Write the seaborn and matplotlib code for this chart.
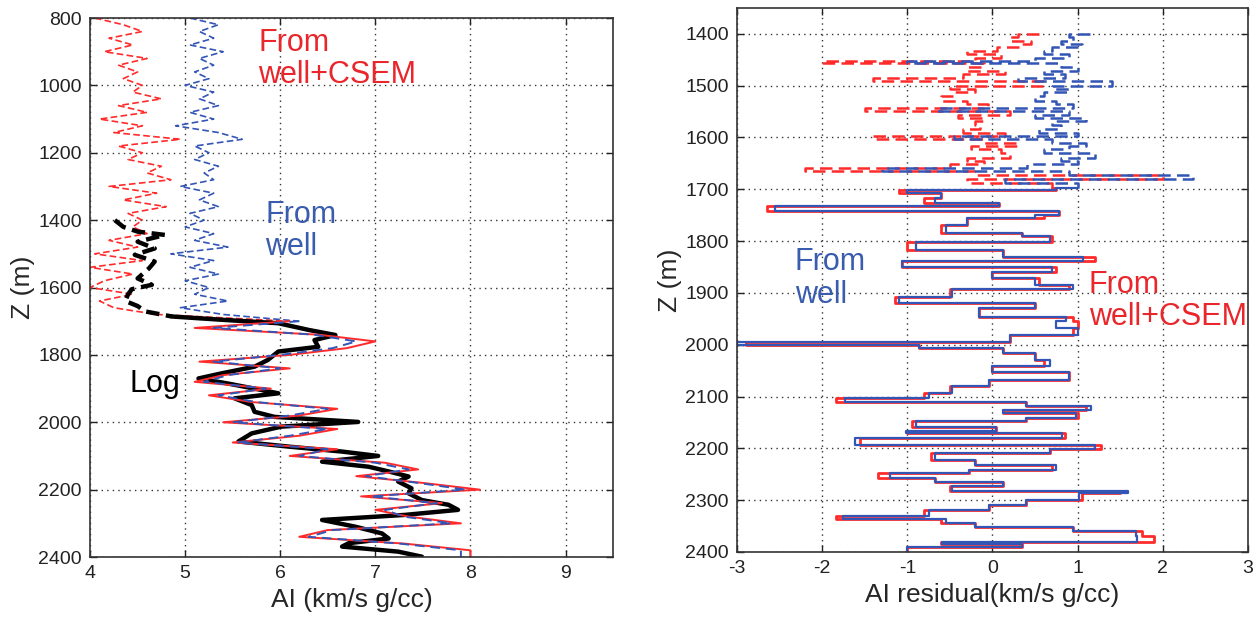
import numpy as np
import pandas as pd
import seaborn as sns
import matplotlib.pyplot as plt

sns.set_style("ticks")
plt.rcParams['font.family'] = ['Liberation Sans', 'DejaVu Sans']
plt.rcParams['axes.unicode_minus'] = False

# ---- left panel: AI vs depth ----
depth_ai = np.arange(800, 2401, 20)
ai_csem = [4.05, 4.35, 4.55, 4.2, 4.45, 4.15, 4.6, 4.3, 4.5, 4.35,
           4.55, 4.45, 4.75, 4.3, 4.6, 4.1, 4.55, 4.25, 4.95, 4.3,
           4.55, 4.4, 4.75, 4.6, 4.85, 4.2, 4.7, 4.35, 4.8, 4.4,
           4.55, 4.45, 4.6, 4.2, 4.5, 4.05, 4.55, 4.0, 4.45, 4.15,
           4.0, 4.45, 4.1, 4.25, 4.7, 6.1, 5.1, 6.4, 7.0, 6.7,
           6.1, 5.15, 6.1, 5.4, 5.1, 5.9, 5.25, 5.7, 6.6, 6.2,
           5.4, 6.6, 6.2, 5.5, 6.6, 6.1, 7.1, 7.45, 6.8, 7.5,
           8.1, 6.85, 7.7, 7.0, 7.35, 7.9, 6.5, 6.2, 7.3, 8.0, 8.0]
ai_well = [5.05, 5.35, 5.15, 5.3, 5.05, 5.4, 5.15, 5.3, 5.1, 5.25,
           5.0, 5.3, 5.15, 5.35, 5.05, 5.3, 4.9, 5.35, 5.6, 5.1,
           5.25, 5.1, 5.35, 5.2, 5.3, 4.95, 5.3, 5.15, 5.35, 5.05,
           5.2, 5.0, 5.3, 5.1, 5.45, 4.85, 5.3, 5.05, 5.35, 5.0,
           5.25, 5.1, 5.45, 4.95, 5.4, 6.2, 5.3, 6.35, 6.8, 6.55,
           6.0, 5.3, 6.0, 5.45, 5.2, 5.85, 5.35, 5.75, 6.5, 6.1,
           5.5, 6.5, 6.1, 5.55, 6.5, 6.2, 7.0, 7.35, 6.9, 7.45,
           7.95, 6.95, 7.65, 7.1, 7.3, 7.8, 6.55, 6.3, 7.25, 7.9, 7.9]

log_depth = [1400, 1420, 1434, 1444, 1464, 1484, 1503, 1523, 1543, 1573,
             1592, 1605, 1620, 1640, 1655, 1671, 1686, 1696, 1706, 1726,
             1741, 1756, 1776, 1790, 1815, 1835, 1855, 1870, 1885, 1904,
             1914, 1929, 1949, 1969, 1984, 1999, 2013, 2033, 2057, 2072,
             2087, 2100, 2117, 2132, 2146, 2161, 2176, 2196, 2211, 2231,
             2245, 2260, 2275, 2290, 2310, 2330, 2345, 2359, 2369, 2384, 2399]
log_ai = [4.26, 4.35, 4.5, 4.79, 4.5, 4.68, 4.47, 4.68, 4.62, 4.5,
          4.65, 4.44, 4.4, 4.37, 4.5, 4.58, 4.86, 5.4, 5.98, 6.3,
          6.58, 6.36, 6.4, 5.98, 5.87, 5.73, 5.38, 5.14, 5.45, 5.8,
          5.98, 5.52, 5.7, 5.73, 5.94, 6.82, 6.01, 5.7, 5.56, 6.08,
          6.65, 7.03, 6.44, 6.93, 7.14, 7.35, 7.24, 7.38, 7.35, 7.49,
          7.77, 7.87, 7.31, 6.44, 6.79, 7.07, 7.14, 6.72, 6.65, 7.24, 7.49]

# ---- right panel: residuals ----
res_depth_up = [1400, 1406, 1413, 1420, 1426, 1433, 1439, 1446, 1452, 1457,
                1464, 1471, 1478, 1485, 1491, 1500, 1507, 1513, 1520, 1529,
                1536, 1543, 1549, 1556, 1562, 1568, 1576, 1584, 1591, 1597,
                1603, 1610, 1616, 1623, 1630, 1639, 1646, 1652, 1658, 1664,
                1672, 1681, 1688, 1697]
res_csem_up = [0.55, 0.3, 0.2, 0.45, 0.35, 0.05, -0.3, 0.1, -0.2, -2.0,
               -0.1, -0.3, 0.15, -0.35, -1.4, 0.6, -0.5, -0.2, -0.45, -0.6,
               -0.3, -0.05, -1.5, 0.2, -0.4, -0.1, -0.2, -0.15, -0.35, 0.15,
               -1.4, -0.1, 0.3, -0.25, 0.1, 0.2, -0.3, -0.1, -0.5, -2.2,
               -0.2, 2.0, -0.3, 0.7]
res_well_up = [1.15, 0.9, 0.95, 0.8, 1.05, 0.7, 0.6, 0.9, 0.5, -1.0,
               0.8, 1.0, 0.6, 0.85, 0.3, 1.4, 0.7, 0.9, 0.6, 0.5,
               0.75, 0.95, -0.65, 0.9, 0.5, 1.1, 0.7, 0.8, 0.55, 1.0,
               -0.45, 0.7, 1.1, 0.9, 0.6, 1.2, 0.8, 1.0, 0.4, -1.3,
               0.9, 2.35, 0.15, 1.0]

res_depth_lo = [1697, 1701, 1707, 1717, 1727, 1733, 1741, 1749, 1756, 1768,
                1785, 1791, 1801, 1817, 1830, 1839, 1849, 1859, 1872, 1884,
                1893, 1907, 1920, 1929, 1946, 1955, 1968, 1981, 1994, 2000,
                2007, 2016, 2029, 2042, 2052, 2068, 2080, 2093, 2103, 2111,
                2118, 2126, 2132, 2142, 2148, 2158, 2167, 2171, 2180, 2193,
                2201, 2209, 2222, 2232, 2241, 2248, 2257, 2264, 2273, 2282,
                2286, 2299, 2309, 2319, 2331, 2336, 2344, 2351, 2360, 2370,
                2380, 2385, 2391, 2399]
res_well_lo = [1.0, 0.75, -1.0, -0.6, -0.67, 0.08, -2.55, 0.78, 0.5, -0.3,
               -0.55, 0.35, 0.67, -0.9, 0.12, 1.06, -1.06, 0.7, 0.0, 0.5,
               0.94, -0.47, -1.1, 0.5, -0.16, 0.86, 0.75, 1.0, 0.2, -3.0,
               -0.86, 0.12, 0.5, 0.67, 0.0, 0.9, -0.04, -0.47, -0.75, -1.73,
               0.39, 1.16, 0.12, 0.98, 0.39, -0.9, 0.04, -1.02, 0.82, -1.61,
               1.2, 0.67, -0.67, -0.2, 0.75, -0.27, -1.2, -0.67, 0.12, -0.47,
               1.59, 1.02, 0.39, -0.04, -0.75, -1.75, -0.55, -0.2, 0.94, 1.69,
               1.7, -0.59, 0.35, -1.0]
res_csem_lo = [0.7, 0.75, -1.1, -0.6, -0.8, 0.08, -2.65, 0.78, 0.6, -0.3,
               -0.6, 0.35, 0.7, -1.0, 0.12, 1.2, -1.06, 0.75, 0.0, 0.55,
               0.9, -0.5, -1.15, 0.5, -0.16, 0.95, 1.0, 0.95, 0.2, -2.9,
               -0.86, 0.12, 0.5, 0.6, 0.0, 0.9, -0.04, -0.5, -0.8, -1.84,
               0.39, 1.1, 0.12, 1.0, 0.39, -0.95, 0.04, -1.0, 0.85, -1.55,
               1.28, 0.67, -0.72, -0.2, 0.7, -0.27, -1.35, -0.67, 0.12, -0.5,
               1.5, 1.05, 0.39, -0.04, -0.8, -1.84, -0.6, -0.2, 0.94, 1.75,
               1.9, -0.6, 0.35, -1.0]

RED = '#ff2b2b'
BLUE = '#3355b5'
RED_TXT = '#e8262b'
BLUE_TXT = '#3a5cae'


def trace(ax, x, y, **kw):
    df = pd.DataFrame({'x': x, 'y': y})
    sns.lineplot(data=df, x='x', y='y', sort=False, estimator=None, ax=ax, **kw)


def style_axes(ax):
    ax.grid(True, linestyle=(0, (1, 3)), color='#333333', linewidth=1.0)
    ax.tick_params(direction='in', top=True, right=True, length=5, width=1,
                   labelsize=14, pad=6, colors='#222222')
    for s in ax.spines.values():
        s.set_linewidth(1.2)
        s.set_color('#333333')
    ax.set_ylabel('Z (m)', fontsize=19, labelpad=2)


fig = plt.figure(figsize=(12.56, 6.23), dpi=100)
ax1 = fig.add_axes([0.0717, 0.1059, 0.4164, 0.8652])
ax2 = fig.add_axes([0.5868, 0.114, 0.4068, 0.8732])

# left panel
cut = 46
trace(ax1, ai_csem[:cut], depth_ai[:cut], color=RED, lw=1.2,
      linestyle=(0, (4, 2)))
trace(ax1, ai_well[:cut], depth_ai[:cut], color=BLUE, lw=1.2,
      linestyle=(0, (4, 2)))
trace(ax1, log_ai[:17], log_depth[:17], color='black', lw=3.2,
      linestyle=(0, (3, 1.5)))
trace(ax1, log_ai[16:], log_depth[16:], color='black', lw=3.2)
trace(ax1, ai_csem[cut - 1:], depth_ai[cut - 1:], color=RED, lw=1.4)
trace(ax1, ai_well[cut - 1:], depth_ai[cut - 1:], color=BLUE, lw=1.4,
      linestyle=(0, (5, 3)))

ax1.set_xlim(4, 9.5)
ax1.set_ylim(2400, 800)
ax1.set_xticks([4, 5, 6, 7, 8, 9])
ax1.set_yticks(range(800, 2401, 200))
style_axes(ax1)
ax1.set_xlabel('AI (km/s g/cc)', fontsize=19, labelpad=4)

ax1.text(5.77, 830, 'From\nwell+CSEM', color=RED_TXT, fontsize=22,
         va='top', ha='left', linespacing=1.1)
ax1.text(5.84, 1340, 'From\nwell', color=BLUE_TXT, fontsize=22,
         va='top', ha='left', linespacing=1.1)
ax1.text(4.42, 1885, 'Log', color='black', fontsize=22, va='center', ha='left')

# right panel
trace(ax2, res_csem_up, res_depth_up, color=RED, lw=1.8,
      linestyle=(0, (5, 2.5)), drawstyle='steps-post')
trace(ax2, res_well_up, res_depth_up, color=BLUE, lw=1.8,
      linestyle=(0, (5, 2.5)), drawstyle='steps-post')
trace(ax2, res_csem_lo, res_depth_lo, color=RED, lw=2.0,
      drawstyle='steps-post')
trace(ax2, res_well_lo, res_depth_lo, color=BLUE, lw=1.6,
      drawstyle='steps-post')

ax2.set_xlim(-3, 3)
ax2.set_ylim(2400, 1350)
ax2.set_xticks(range(-3, 4))
ax2.set_yticks(range(1400, 2401, 100))
style_axes(ax2)
ax2.set_xlabel('AI residual(km/s g/cc)', fontsize=19, labelpad=4)

ax2.text(-2.32, 1812, 'From\nwell', color=BLUE_TXT, fontsize=22,
         va='top', ha='left', linespacing=1.1)
ax2.text(1.13, 1855, 'From\nwell+CSEM', color=RED_TXT, fontsize=22,
         va='top', ha='left', linespacing=1.1)

for ax in (ax1, ax2):
    ax.set_facecolor('white')

fig.savefig('out.png', dpi=100)
